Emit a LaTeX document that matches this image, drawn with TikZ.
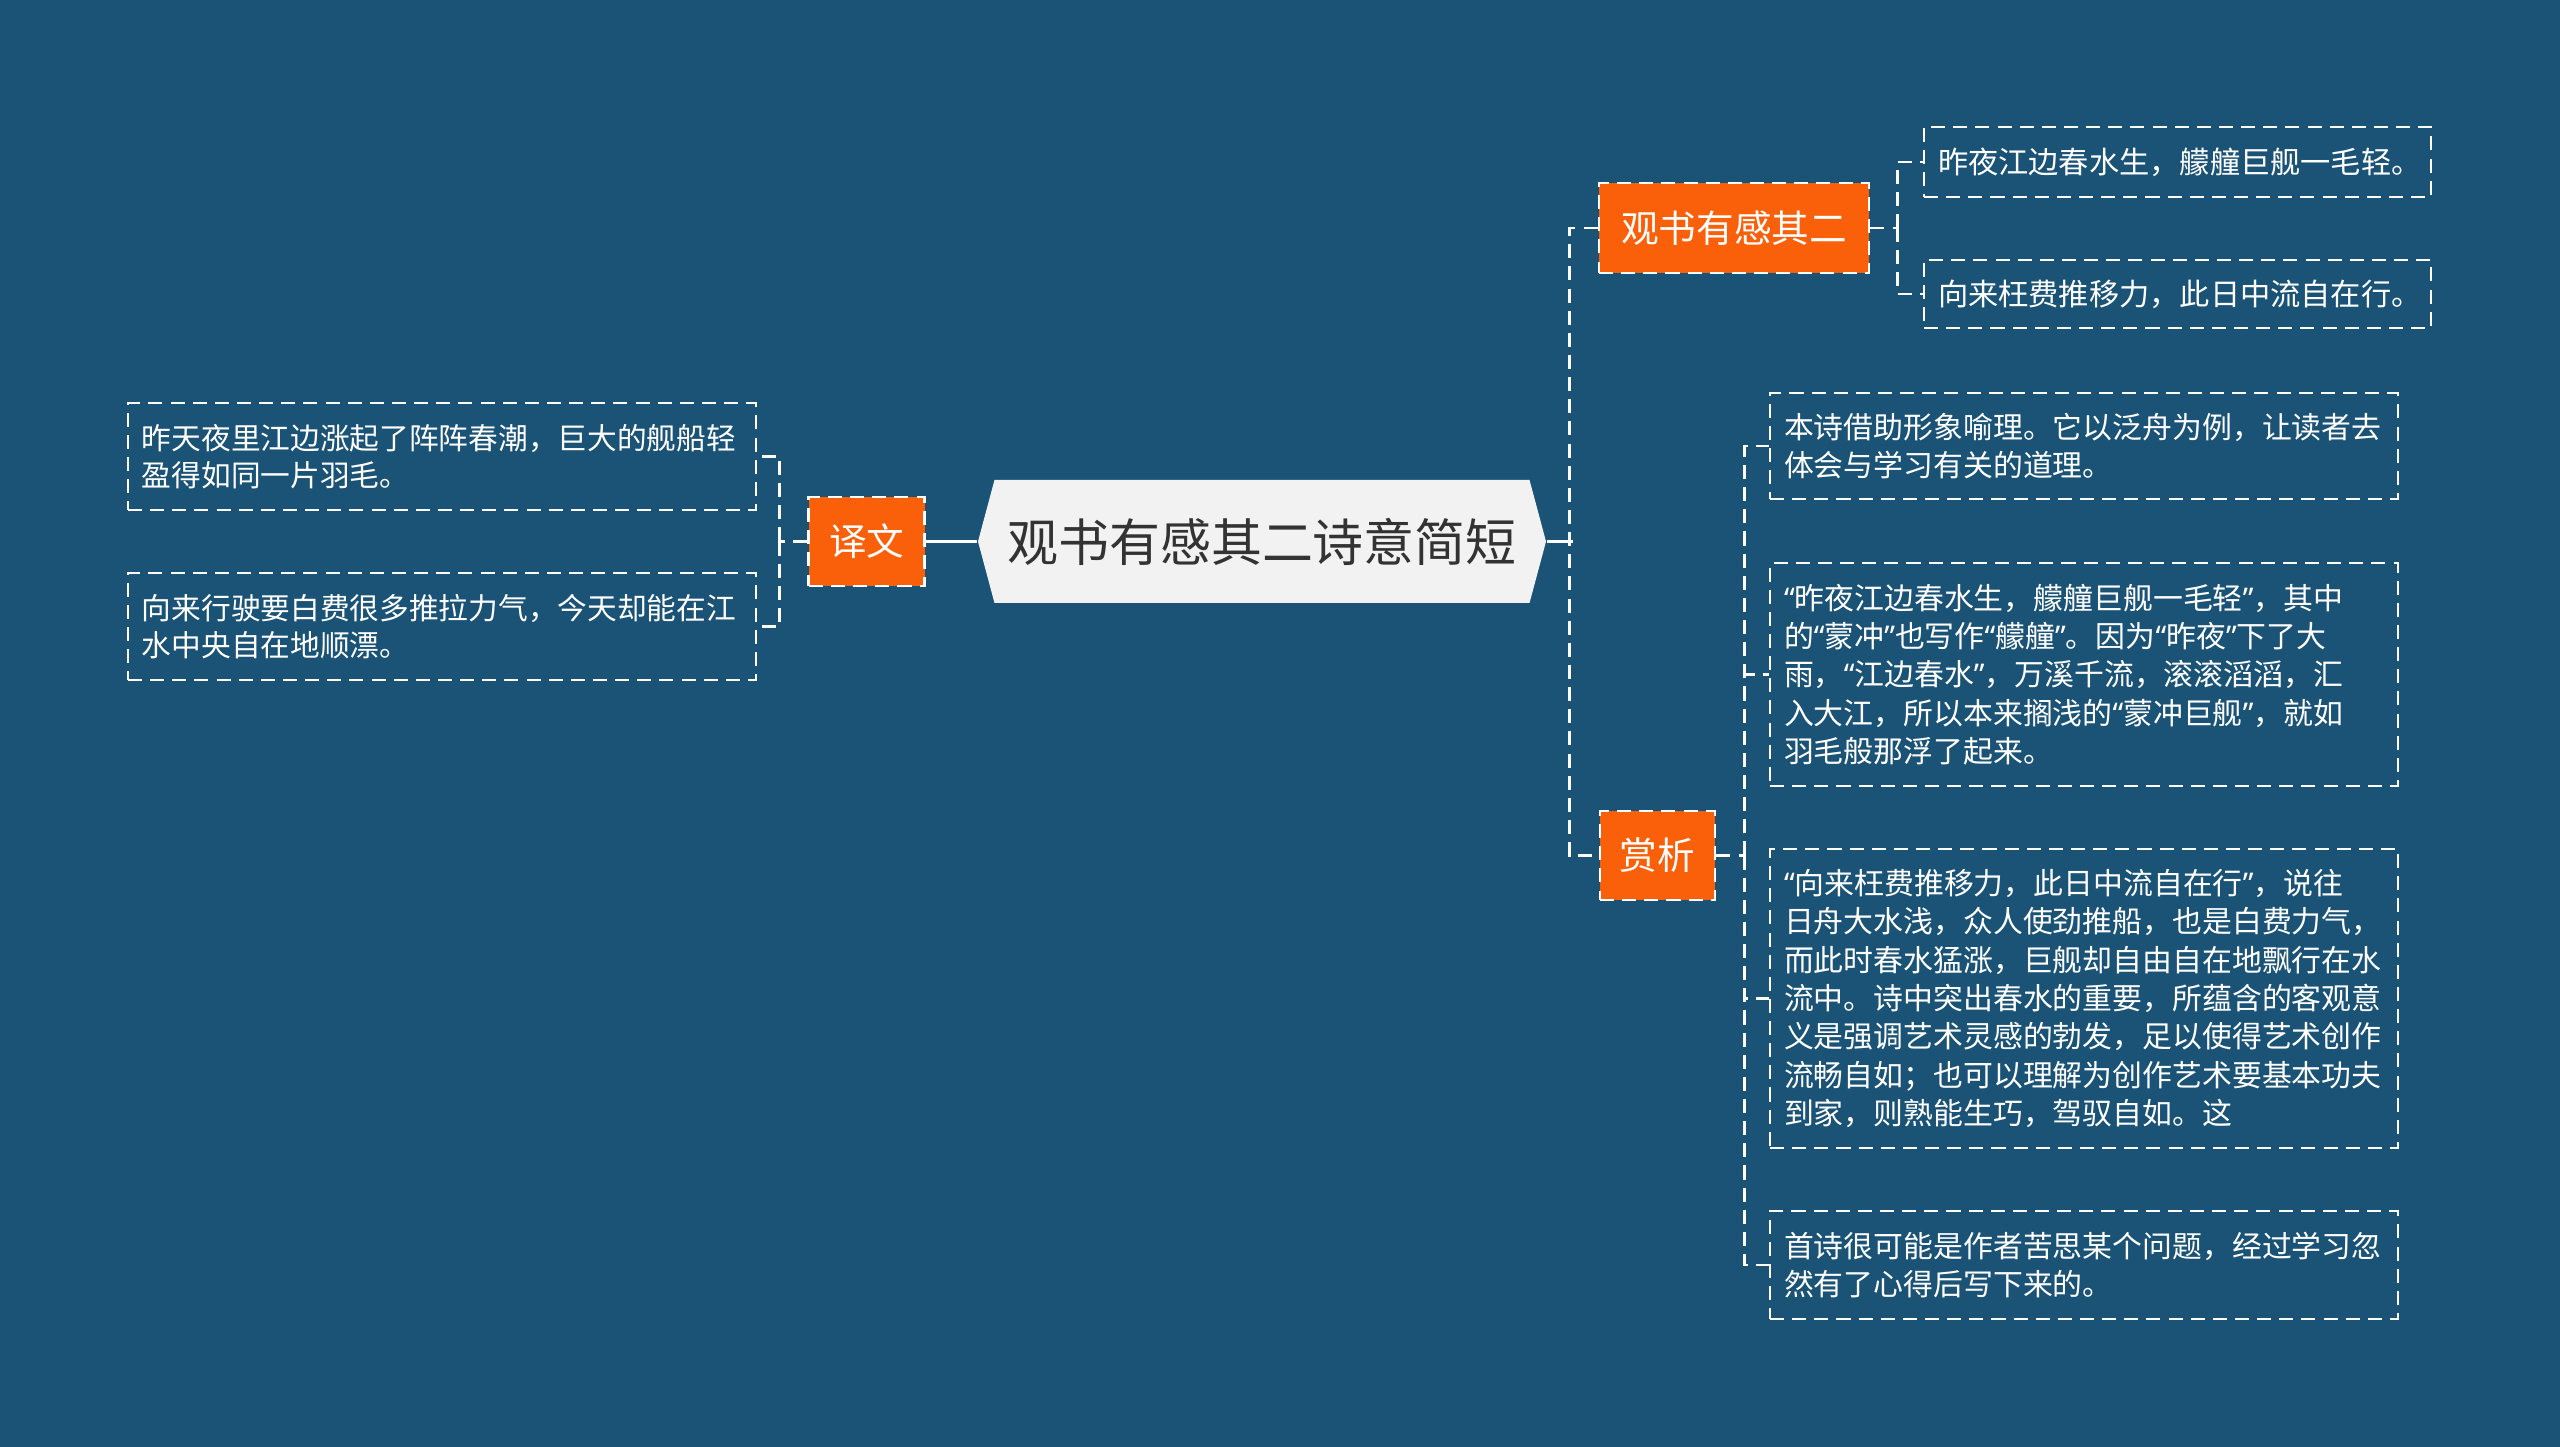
\documentclass[tikz,border=0pt]{standalone}
\usepackage{fontspec}
\newfontfamily\cjk{Noto Sans CJK SC}
\newfontfamily\quotefont{Noto Sans}
\newcommand\qopen{{\quotefont “}}
\newcommand\qclose{{\quotefont ”}}
\usepackage{tikz}
\usetikzlibrary{shapes.symbols,positioning,calc}

\definecolor{bgblue}{RGB}{27,83,119}
\definecolor{nodeorange}{RGB}{250,96,10}
\definecolor{rootgray}{RGB}{242,242,242}
\definecolor{rootink}{RGB}{51,51,51}

\begin{document}
\begin{tikzpicture}[
    root/.style={signal, signal to=west and east, signal pointer angle=150,
                 fill=rootgray, text=rootink, minimum width=5.68cm, minimum height=1.23cm,
                 inner sep=0pt, font=\cjk\fontsize{14.5}{17}\selectfont},
    branch/.style={rectangle, fill=nodeorange, draw=white, line width=0.8pt,
                   dash pattern=on 4pt off 2.3pt, text=white, inner sep=0pt,
                   minimum height=0.89cm, font=\cjk\fontsize{10.7}{13}\selectfont},
    leaf/.style={rectangle, draw=white, line width=0.8pt, dash pattern=on 4pt off 2.3pt,
                 text=white, align=left, inner xsep=0.14cm, inner ysep=0pt,
                 text width=6.0cm, minimum width=6.28cm,
                 font=\cjk\fontsize{8.5}{10.9}\selectfont},
    leftleaf/.style={leaf, font=\cjk\fontsize{8.45}{10.4}\selectfont},
    topleaf/.style={leaf, text width=4.79cm, minimum width=5.07cm,
                    font=\cjk\fontsize{8.6}{10.9}\selectfont},
    link/.style={draw=white, line width=0.8pt},
    dlink/.style={link, dash pattern=on 4pt off 2.3pt}
  ]
    % background
    \fill[bgblue] (0,0) rectangle (25.6,-14.47);
    \useasboundingbox (0,0) rectangle (25.6,-14.47);

    %--- centre and first level ---
    \node[root] (title) at (12.62,-5.415) {观书有感其二诗意简短};
    \node[branch, minimum width=1.16cm, left=0.51cm of title] (yiwen) {译文};
    \node[branch, minimum width=2.70cm, minimum height=0.90cm] (guanshu) at (17.34,-2.28) {观书有感其二};
    \node[branch, minimum width=1.15cm] (shangxi) at (16.575,-8.555) {赏析};

    %--- translation leaves (left) ---
    \node[leftleaf, minimum height=1.07cm] (trans1) at (4.42,-4.565)
      {昨天夜里江边涨起了阵阵春潮，巨大的舰船轻\\盈得如同一片羽毛。};
    \node[leftleaf, minimum height=1.07cm] (trans2) at (4.42,-6.265)
      {向来行驶要白费很多推拉力气，今天却能在江\\水中央自在地顺漂。};

    %--- poem lines (top right) ---
    \node[topleaf, minimum height=0.70cm] (line1) at (21.775,-1.62)
      {昨夜江边春水生，艨艟巨舰一毛轻。};
    \node[topleaf, minimum height=0.68cm] (line2) at (21.775,-2.94)
      {向来枉费推移力，此日中流自在行。};

    %--- appreciation leaves (right) ---
    \node[leaf, minimum height=1.06cm] (note1) at (20.84,-4.46)
      {本诗借助形象喻理。它以泛舟为例，让读者去\\体会与学习有关的道理。};
    \node[leaf, minimum height=2.23cm] (note2) at (20.84,-6.745)
      {\qopen 昨夜江边春水生，艨艟巨舰一毛轻\qclose ，其中\\
       的\qopen 蒙冲\qclose 也写作\qopen 艨艟\qclose 。因为\qopen 昨夜\qclose 下了大\\
       雨，\qopen 江边春水\qclose ，万溪千流，滚滚滔滔，汇\\
       入大江，所以本来搁浅的\qopen 蒙冲巨舰\qclose ，就如\\
       羽毛般那浮了起来。};
    \node[leaf, minimum height=2.99cm] (note3) at (20.84,-9.985)
      {\qopen 向来枉费推移力，此日中流自在行\qclose ，说往\\
       日舟大水浅，众人使劲推船，也是白费力气，\\
       而此时春水猛涨，巨舰却自由自在地飘行在水\\
       流中。诗中突出春水的重要，所蕴含的客观意\\
       义是强调艺术灵感的勃发，足以使得艺术创作\\
       流畅自如；也可以理解为创作艺术要基本功夫\\
       到家，则熟能生巧，驾驭自如。这};
    \node[leaf, minimum height=1.08cm] (note4) at (20.84,-12.65)
      {首诗很可能是作者苦思某个问题，经过学习忽\\然有了心得后写下来的。};

    %--- centre links ---
    \draw[link] (title.west) -- (yiwen.east);
    \draw[link] (title.east) -- ++(0.26,0);
    \draw[dlink] (guanshu.west) -- ++(-0.28,0) |- (shangxi.west);

    %--- branch links ---
    \draw[dlink] (yiwen.west) -- ++(-0.28,0) coordinate (ybus);
    \draw[dlink] (ybus) |- (trans1.east);
    \draw[dlink] (ybus) |- (trans2.east);

    \draw[dlink] (guanshu.east) -- ++(0.27,0) coordinate (gbus);
    \draw[dlink] (gbus) |- (line1.west);
    \draw[dlink] (gbus) |- (line2.west);

    \draw[dlink] (shangxi.east) -- ++(0.28,0) coordinate (sbus);
    \draw[dlink] (sbus) |- (note1.west);
    \draw[dlink] (sbus) |- (note2.west);
    \draw[dlink] (sbus) |- (note3.west);
    \draw[dlink] (sbus) |- (note4.west);
  \end{tikzpicture}
\end{document}
